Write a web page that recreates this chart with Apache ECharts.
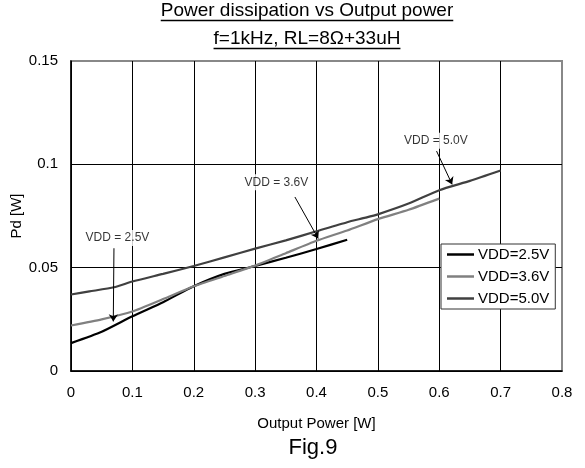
<!DOCTYPE html>
<html>
<head>
<meta charset="utf-8">
<title>Power dissipation vs Output power</title>
<script src="https://cdn.jsdelivr.net/npm/echarts@6/dist/echarts.min.js"></script>
<style>
  html, body { margin: 0; padding: 0; background: #fff; }
  #chart { width: 585px; height: 468px; }
</style>
</head>
<body>
<div id="chart"></div>
<script>
// data
var seriesNames = ['VDD=2.5V', 'VDD=3.6V', 'VDD=5.0V'];

var x25 = [0, 0.05, 0.1, 0.15, 0.2, 0.25, 0.3, 0.35, 0.4, 0.45];
var y25 = [0.0135, 0.019, 0.0265, 0.0333, 0.041, 0.047, 0.0508, 0.0548, 0.059, 0.0635];

var x36 = [0, 0.05, 0.1, 0.15, 0.2, 0.25, 0.3, 0.35, 0.4, 0.45, 0.5, 0.55, 0.6];
var y36 = [0.022, 0.025, 0.0288, 0.0348, 0.041, 0.046, 0.051, 0.057, 0.063, 0.068, 0.0735, 0.078, 0.0834];

var x50 = [0, 0.03, 0.07, 0.1, 0.15, 0.2, 0.25, 0.3, 0.35, 0.4, 0.45, 0.48, 0.5, 0.55, 0.6, 0.65, 0.7];
var y50 = [0.037, 0.0385, 0.0405, 0.0433, 0.047, 0.0508, 0.055, 0.0592, 0.0632, 0.0676, 0.072, 0.0742, 0.0758, 0.081, 0.0875, 0.092, 0.097];

// annotation labels and arrows (data coords)
var noteText = ['VDD = 2.5V', 'VDD = 3.6V', 'VDD = 5.0V'];
var notePos = [[0.0757, 0.0644], [0.3347, 0.0913], [0.5945, 0.1114]];
var arrowFrom = [[0.0700, 0.0594], [0.3648, 0.0842], [0.5956, 0.1064]];
var arrowTo = [[0.0689, 0.0240], [0.4028, 0.0641], [0.6210, 0.0903]];

var titleLines = ['Power dissipation vs Output power', 'f=1kHz, RL=8Ω+33uH'];

var FONT = 'Liberation Sans, Arial, sans-serif';
var colors = ['#000000', '#808080', '#404040'];

function zip(xs, ys) {
    return xs.map(function (x, i) { return [x, ys[i]]; });
}

// measure text so the underline fits the title
var cv = document.createElement('canvas').getContext('2d');
function textW(s, size) {
    cv.font = size + 'px ' + FONT;
    return cv.measureText(s).width;
}

var titleX = 307;
var titleSize = 19;
var titleY = [11, 39];
var graphics = [];
titleLines.forEach(function (s, i) {
    var w = textW(s, titleSize);
    graphics.push({
        type: 'text',
        style: {
            x: titleX, y: titleY[i], text: s, fill: '#000',
            font: titleSize + 'px ' + FONT,
            textAlign: 'center', textVerticalAlign: 'middle'
        }
    });
    graphics.push({
        type: 'line',
        shape: { x1: titleX - w / 2, y1: titleY[i] + 9.5, x2: titleX + w / 2, y2: titleY[i] + 9.5 },
        style: { stroke: '#000', lineWidth: 1.3 }
    });
});
graphics.push({
    type: 'text',
    style: {
        x: 313, y: 448, text: 'Fig.9', fill: '#000',
        font: '22px ' + FONT, textAlign: 'center', textVerticalAlign: 'middle'
    }
});

var chart = echarts.init(document.getElementById('chart'));

var lineSeries = [[x25, y25], [x36, y36], [x50, y50]].map(function (d, i) {
    return {
        name: seriesNames[i],
        type: 'line',
        data: zip(d[0], d[1]),
        showSymbol: false,
        symbol: 'none',
        smooth: 0.2,
        color: colors[i],
        lineStyle: { color: colors[i], width: 2.2 },
        z: 3
    };
});

var option = {
    animation: false,
    backgroundColor: '#fff',
    textStyle: { fontFamily: FONT },
    grid: {
        left: 71, right: 23, top: 61, bottom: 97,
        containLabel: false,
        outerBoundsMode: 'none',
        show: true, borderColor: '#888', borderWidth: 2, backgroundColor: 'transparent'
    },
    legend: {
        data: seriesNames,
        orient: 'vertical',
        left: 441, top: 244,
        width: 117,
        padding: [3, 6, 3, 6],
        itemGap: 7,
        itemWidth: 27,
        itemHeight: 2.5,
        icon: 'rect',
        backgroundColor: '#fff',
        borderColor: '#333',
        borderWidth: 1,
        borderRadius: 0,
        textStyle: { fontSize: 15, color: '#000', fontFamily: FONT, padding: [0, 0, 0, -1] }
    },
    xAxis: {
        type: 'value',
        min: 0, max: 0.8, interval: 0.1,
        name: 'Output Power [W]',
        nameLocation: 'middle',
        nameGap: 45,
        nameMoveOverlap: false,
        nameTextStyle: { fontSize: 15, color: '#000' },
        axisLine: { show: true, onZero: false, lineStyle: { color: '#000', width: 1.5 } },
        axisTick: { show: false },
        axisLabel: { fontSize: 15, color: '#000', margin: 14 },
        splitLine: {
            show: true,
            lineStyle: { color: ['#000', '#000', '#000', '#000', '#000', '#000', '#000', '#000', '#888'], width: 1 }
        }
    },
    yAxis: {
        type: 'value',
        min: 0, max: 0.15, interval: 0.05,
        name: 'Pd [W]',
        nameLocation: 'middle',
        nameGap: 47,
        nameMoveOverlap: false,
        nameRotate: 90,
        nameTextStyle: { fontSize: 15, color: '#000' },
        axisLine: { show: true, onZero: false, lineStyle: { color: '#000', width: 1.5 } },
        axisTick: { show: false },
        axisLabel: { fontSize: 15, color: '#000', margin: 13 },
        splitLine: {
            show: true,
            lineStyle: { color: ['#000', '#000', '#000', '#888'], width: 1 }
        }
    },
    graphic: graphics,
    series: lineSeries.concat([{
        name: 'notes',
        type: 'scatter',
        symbolSize: 0,
        silent: true,
        z: 4,
        data: notePos.map(function (p, i) { return [p[0], p[1], noteText[i]]; }),
        label: {
            show: true,
            position: 'inside',
            formatter: function (p) { return p.value[2]; },
            fontSize: 12,
            color: '#000',
            backgroundColor: '#fff',
            padding: [2, 2]
        },
        markLine: {
            silent: true,
            symbol: ['none', 'arrow'],
            symbolSize: 7,
            label: { show: false },
            lineStyle: { color: '#000', width: 1, type: 'solid' },
            data: arrowFrom.map(function (a, i) {
                return [{ coord: a }, { coord: arrowTo[i] }];
            })
        }
    }])
};

chart.setOption(option);
</script>
</body>
</html>
